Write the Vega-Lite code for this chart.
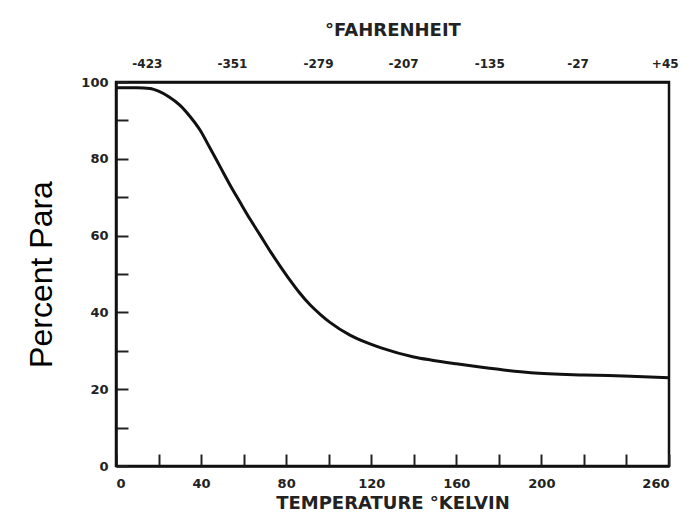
{
  "$schema": "https://vega.github.io/schema/vega-lite/v6.json",
  "width": 553,
  "height": 384,
  "autosize": {"type": "none"},
  "padding": {"left": 116, "top": 82, "right": 23, "bottom": 55},
  "background": "white",
  "config": {
    "view": {"stroke": "#111", "strokeWidth": 2.5},
    "axis": {
      "labelFont": "DejaVu Sans",
      "labelFontWeight": "bold",
      "labelFontSize": 12,
      "labelColor": "#222",
      "titleFont": "DejaVu Sans",
      "titleFontWeight": "bold",
      "titleColor": "#222",
      "domainColor": "#111",
      "domainWidth": 2.5,
      "tickColor": "#222",
      "tickWidth": 2,
      "grid": false
    }
  },
  "data": {
    "values": [
      {"K": 0, "pct": 98.5},
      {"K": 10, "pct": 98.5},
      {"K": 16, "pct": 98.3},
      {"K": 20, "pct": 97.6},
      {"K": 25, "pct": 96.1},
      {"K": 30, "pct": 94.0},
      {"K": 35, "pct": 90.9},
      {"K": 39.5, "pct": 87.5},
      {"K": 44, "pct": 83.0},
      {"K": 49, "pct": 77.9},
      {"K": 54, "pct": 72.8},
      {"K": 58, "pct": 69.0},
      {"K": 63, "pct": 64.3},
      {"K": 67.7, "pct": 60.2},
      {"K": 73, "pct": 55.5},
      {"K": 77, "pct": 52.2},
      {"K": 81.8, "pct": 48.4},
      {"K": 86, "pct": 45.3},
      {"K": 91, "pct": 42.1},
      {"K": 96, "pct": 39.5},
      {"K": 100.6, "pct": 37.4},
      {"K": 110, "pct": 34.1},
      {"K": 118.5, "pct": 32.0},
      {"K": 125, "pct": 30.7},
      {"K": 140, "pct": 28.4},
      {"K": 148, "pct": 27.6},
      {"K": 160, "pct": 26.6},
      {"K": 172, "pct": 25.7},
      {"K": 195, "pct": 24.3},
      {"K": 220, "pct": 23.7},
      {"K": 242, "pct": 23.4},
      {"K": 260, "pct": 23.0}
    ]
  },
  "resolve": {"axis": {"x": "independent"}},
  "layer": [
    {
      "mark": {"type": "line", "color": "#111", "strokeWidth": 3, "interpolate": "monotone", "clip": true},
      "encoding": {
        "x": {
          "field": "K",
          "type": "quantitative",
          "scale": {"domain": [0, 260], "nice": false, "zero": false},
          "axis": {
            "orient": "bottom",
            "title": "TEMPERATURE °KELVIN",
            "titleFontSize": 18,
            "titlePadding": 4,
            "values": [0, 20, 40, 60, 80, 100, 120, 140, 160, 180, 200, 220, 240, 260],
            "labelExpr": "((datum.value % 40 == 0) && datum.value <= 200) || datum.value == 260 ? datum.label : ''",
            "tickSize": -12,
            "labelPadding": 23,
            "labelFontSize": 13
          }
        },
        "y": {
          "field": "pct",
          "type": "quantitative",
          "scale": {"domain": [0, 100], "nice": false},
          "axis": {
            "title": "Percent Para",
            "titleFont": "Liberation Sans",
            "titleFontWeight": "normal",
            "titleFontSize": 32,
            "titleColor": "#000",
            "titlePadding": 22,
            "values": [0, 10, 20, 30, 40, 50, 60, 70, 80, 90, 100],
            "labelExpr": "datum.value % 20 == 0 ? datum.label : ''",
            "tickSize": -12,
            "labelPadding": 20,
            "labelFontSize": 13
          }
        }
      }
    },
    {
      "mark": {"type": "point", "opacity": 0},
      "encoding": {
        "x": {
          "field": "K",
          "type": "quantitative",
          "scale": {"domain": [0, 260], "nice": false, "zero": false},
          "axis": {
            "orient": "top",
            "title": "°FAHRENHEIT",
            "titleFontSize": 18,
            "titlePadding": 18,
            "values": [14.5, 54.5, 95, 135, 175.5, 217, 258],
            "labelExpr": "['-423','-351','-279','-207','-135','-27','+45'][indexof([14.5,54.5,95,135,175.5,217,258], datum.value)]",
            "ticks": false,
            "labelPadding": 12,
            "labelFontSize": 12
          }
        }
      }
    }
  ]
}
